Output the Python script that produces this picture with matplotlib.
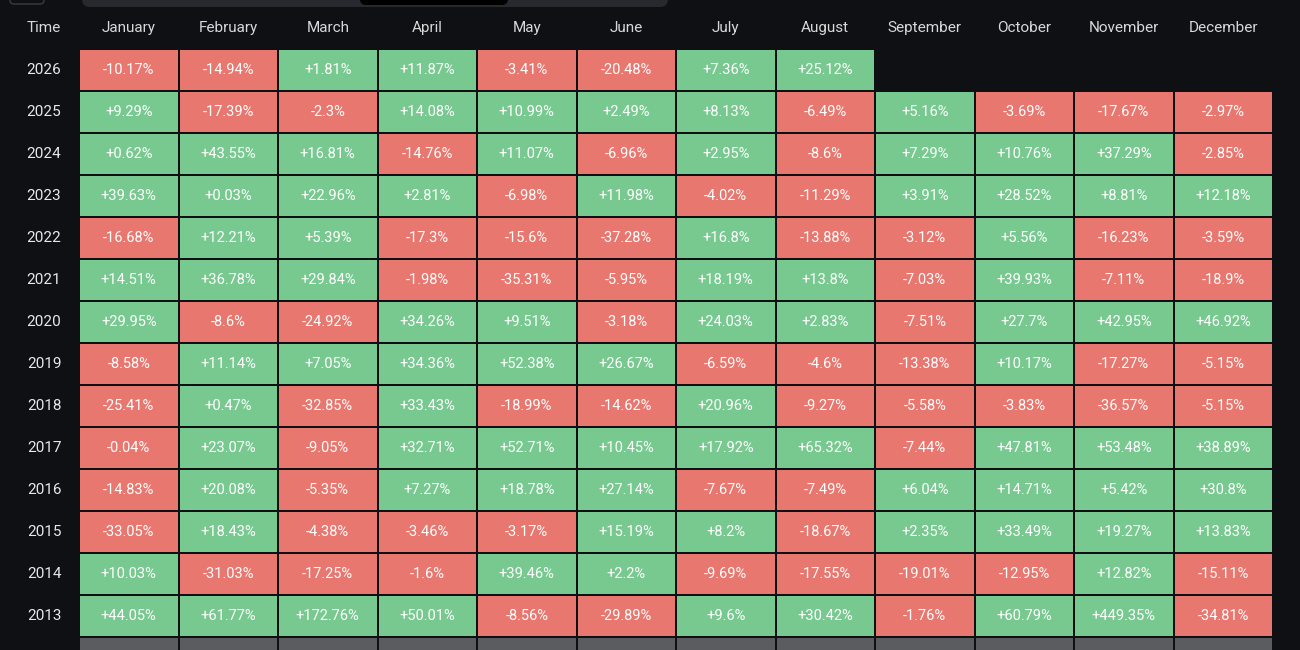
import numpy as np
import matplotlib.pyplot as plt
from matplotlib.patches import Rectangle, FancyBboxPatch

# ── data ─────────────────────────────────────────────
months = ['January', 'February', 'March', 'April', 'May', 'June', 'July',
          'August', 'September', 'October', 'November', 'December']
years = [2026, 2025, 2024, 2023, 2022, 2021, 2020, 2019, 2018, 2017, 2016, 2015, 2014, 2013]
returns = [
    [-10.17, -14.94, 1.81, 11.87, -3.41, -20.48, 7.36, 25.12, None, None, None, None],
    [9.29, -17.39, -2.3, 14.08, 10.99, 2.49, 8.13, -6.49, 5.16, -3.69, -17.67, -2.97],
    [0.62, 43.55, 16.81, -14.76, 11.07, -6.96, 2.95, -8.6, 7.29, 10.76, 37.29, -2.85],
    [39.63, 0.03, 22.96, 2.81, -6.98, 11.98, -4.02, -11.29, 3.91, 28.52, 8.81, 12.18],
    [-16.68, 12.21, 5.39, -17.3, -15.6, -37.28, 16.8, -13.88, -3.12, 5.56, -16.23, -3.59],
    [14.51, 36.78, 29.84, -1.98, -35.31, -5.95, 18.19, 13.8, -7.03, 39.93, -7.11, -18.9],
    [29.95, -8.6, -24.92, 34.26, 9.51, -3.18, 24.03, 2.83, -7.51, 27.7, 42.95, 46.92],
    [-8.58, 11.14, 7.05, 34.36, 52.38, 26.67, -6.59, -4.6, -13.38, 10.17, -17.27, -5.15],
    [-25.41, 0.47, -32.85, 33.43, -18.99, -14.62, 20.96, -9.27, -5.58, -3.83, -36.57, -5.15],
    [-0.04, 23.07, -9.05, 32.71, 52.71, 10.45, 17.92, 65.32, -7.44, 47.81, 53.48, 38.89],
    [-14.83, 20.08, -5.35, 7.27, 18.78, 27.14, -7.67, -7.49, 6.04, 14.71, 5.42, 30.8],
    [-33.05, 18.43, -4.38, -3.46, -3.17, 15.19, 8.2, -18.67, 2.35, 33.49, 19.27, 13.83],
    [10.03, -31.03, -17.25, -1.6, 39.46, 2.2, -9.69, -17.55, -19.01, -12.95, 12.82, -15.11],
    [44.05, 61.77, 172.76, 50.01, -8.56, -29.89, 9.6, 30.42, -1.76, 60.79, 449.35, -34.81],
]

BG = '#0e1014'
GREEN = '#77c98f'
RED = '#e8776f'
GREY = '#5b5c60'

plt.rcParams['font.family'] = ['Roboto', 'DejaVu Sans']

fig = plt.figure(figsize=(13, 6.5), dpi=100, facecolor=BG)
ax = fig.add_axes([0, 0, 1, 1])
ax.set_facecolor(BG)
ax.set_xlim(0, 1300)
ax.set_ylim(650, 0)
ax.axis('off')

# grid geometry (pixels)
x0, col_w, cell_w = 80, 99.5, 97.5
y0, row_h, cell_h = 50, 42, 39.5

# top toolbar, cropped
ax.add_patch(FancyBboxPatch((82, -20), 586, 27, boxstyle='round,pad=0,rounding_size=8',
                            color='#27292e', lw=0))
ax.add_patch(FancyBboxPatch((360, -20), 148, 25, boxstyle='round,pad=0,rounding_size=6',
                            color='#000000', lw=0))
ax.add_patch(FancyBboxPatch((10, -20), 34, 24, boxstyle='round,pad=0,rounding_size=4',
                            fc=BG, ec='#3a3c42', lw=1))

# header
ax.text(44, 28, 'Time', color='#d8d8d8', fontsize=11, ha='center', va='center')
for j, m in enumerate(months):
    ax.text(x0 + j * col_w + cell_w / 2, 28, m, color='#d8d8d8', fontsize=11,
            ha='center', va='center')

# cells
for i, (yr, row) in enumerate(zip(years, returns)):
    yc = y0 + i * row_h + cell_h / 2
    ax.text(44, yc, str(yr), color='#e8e8e8', fontsize=11, ha='center', va='center')
    for j, v in enumerate(row):
        if v is None:
            continue
        xl = x0 + j * col_w
        ax.add_patch(Rectangle((xl, y0 + i * row_h), cell_w, cell_h,
                               color=GREEN if v >= 0 else RED, lw=0))
        ax.text(xl + cell_w / 2, yc, f'{v:+g}%', color='white', fontsize=10.5,
                ha='center', va='center')

# partial grey summary row at the bottom
i = len(years)
for j in range(len(months)):
    ax.add_patch(Rectangle((x0 + j * col_w, y0 + i * row_h), cell_w, cell_h, color=GREY, lw=0))

fig.savefig('out.png', dpi=100, facecolor=BG)
